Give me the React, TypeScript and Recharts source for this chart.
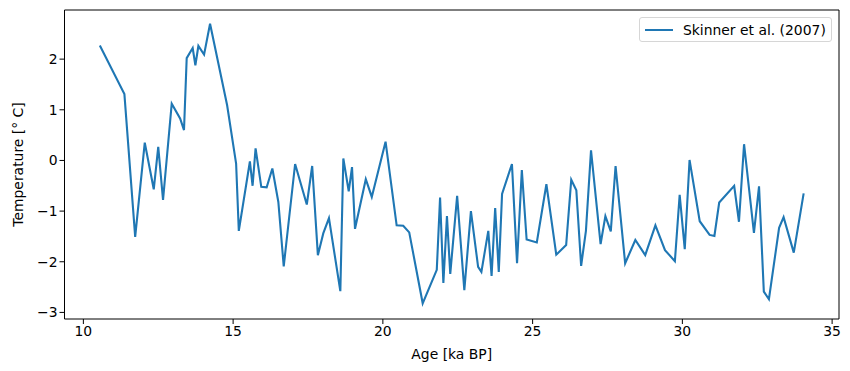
import React from 'react';
import { LineChart, Line, XAxis, YAxis, ReferenceLine } from 'recharts';

// Skinner et al. (2007) temperature record
const ages = [
  10.55, 11.37, 11.73, 12.05, 12.35, 12.5, 12.66, 12.95, 13.23, 13.36,
  13.45, 13.65, 13.74, 13.84, 14.03, 14.23, 14.8, 15.1, 15.19, 15.56,
  15.65, 15.75, 15.94, 16.12, 16.31, 16.51, 16.69, 17.07, 17.46, 17.64,
  17.83, 18.01, 18.2, 18.58, 18.68, 18.86, 18.97, 19.07, 19.43, 19.63,
  20.09, 20.46, 20.68, 20.88, 21.33, 21.8, 21.91, 22.02, 22.14, 22.25,
  22.48, 22.72, 22.94, 23.18, 23.29, 23.52, 23.63, 23.75, 23.87, 23.98,
  24.31, 24.48, 24.64, 24.8, 25.14, 25.46, 25.79, 26.12, 26.29, 26.46,
  26.62, 26.78, 26.95, 27.27, 27.43, 27.61, 27.77, 28.09, 28.43, 28.76,
  29.1, 29.42, 29.75, 29.91, 30.08, 30.24, 30.58, 30.91, 31.07, 31.23,
  31.73, 31.89, 32.06, 32.39, 32.56, 32.72, 32.89, 33.23, 33.38, 33.72,
  34.05,
];

const temps = [
  2.27, 1.31, -1.51, 0.35, -0.57, 0.27, -0.78, 1.12, 0.83, 0.6,
  2.02, 2.22, 1.88, 2.26, 2.09, 2.7, 1.09, -0.06, -1.39, -0.02,
  -0.5, 0.24, -0.52, -0.53, -0.16, -0.82, -2.09, -0.07, -0.87, -0.11,
  -1.87, -1.44, -1.14, -2.58, 0.04, -0.61, -0.13, -1.35, -0.37, -0.72,
  0.37, -1.28, -1.29, -1.42, -2.82, -2.16, -0.73, -2.42, -1.1, -2.24,
  -0.7, -2.56, -1.0, -2.1, -2.2, -1.39, -2.28, -0.94, -2.2, -0.66,
  -0.07, -2.03, -0.19, -1.56, -1.62, -0.47, -1.86, -1.67, -0.38, -0.59,
  -2.08, -1.39, 0.2, -1.65, -1.1, -1.4, -0.11, -2.03, -1.57, -1.87,
  -1.28, -1.77, -1.99, -0.68, -1.75, 0.01, -1.2, -1.47, -1.49, -0.83,
  -0.5, -1.21, 0.32, -1.43, -0.51, -2.59, -2.74, -1.33, -1.12, -1.82,
  -0.65,
];

const xTicks = [10, 15, 20, 25, 30, 35];
const yTicks = [-3, -2, -1, 0, 1, 2];
const xDomain: [number, number] = [9.37, 35.23];
const yDomain: [number, number] = [-3.13, 2.97];
const seriesName = 'Skinner et al. (2007)';

const data = ages.map((age, i) => ({ age, temp: temps[i] }));

const font = '"DejaVu Sans", sans-serif';
const tickStyle = { fill: '#000', fontSize: 13.9, fontFamily: font };

const App = () => {
  return (
    <div style={{ position: 'absolute', left: 0, top: 0, width: 850, height: 371, fontFamily: font }}>
      <LineChart
        width={850}
        height={371}
        data={data}
        margin={{ top: 10, right: 11, bottom: 8, left: 0 }}
      >
        <XAxis
          dataKey="age"
          type="number"
          domain={xDomain}
          ticks={xTicks}
          allowDataOverflow
          height={44}
          tickSize={5}
          stroke="#000"
          tick={tickStyle}
          label={{
            value: 'Age [ka BP]',
            position: 'insideBottom',
            offset: 4,
            fill: '#000',
            fontSize: 13.9,
            fontFamily: font,
          }}
        />
        <YAxis
          type="number"
          domain={yDomain}
          ticks={yTicks}
          allowDataOverflow
          width={64.5}
          tickSize={5}
          stroke="#000"
          tick={tickStyle}
          tickFormatter={(v: number) => (v < 0 ? `\u2212${Math.abs(v)}` : `${v}`)}
          label={{
            content: (props: any) => {
              const vb = props.viewBox || { x: 0, y: 10, width: 64.5, height: 309 };
              const cy = vb.y + vb.height / 2;
              return (
                <text
                  x={18}
                  y={cy}
                  transform={`rotate(-90 18 ${cy})`}
                  textAnchor="middle"
                  dominantBaseline="central"
                  fill="#000"
                  fontSize={13.9}
                  fontFamily={font}
                >
                  Temperature [° C]
                </text>
              );
            },
          }}
        />
        {/* frame: top and right spines */}
        <ReferenceLine y={yDomain[1]} stroke="#000" strokeWidth={1} />
        <ReferenceLine x={xDomain[1]} stroke="#000" strokeWidth={1} />
        <Line
          type="linear"
          dataKey="temp"
          name={seriesName}
          stroke="#1f77b4"
          strokeWidth={2.1}
          dot={false}
          activeDot={false}
          isAnimationActive={false}
        />
      </LineChart>
      <div
        style={{
          position: 'absolute',
          left: 639,
          top: 17,
          width: 191,
          height: 23,
          border: '1px solid #d6d6d6',
          borderRadius: 3,
          background: 'rgba(255,255,255,0.8)',
          display: 'flex',
          alignItems: 'center',
          fontSize: 13.9,
          color: '#000',
        }}
      >
        <span style={{ display: 'inline-block', marginLeft: 5, width: 28, height: 2, background: '#1f77b4' }} />
        <span style={{ marginLeft: 10, whiteSpace: 'nowrap' }}>{seriesName}</span>
      </div>
    </div>
  );
};

export default App;
